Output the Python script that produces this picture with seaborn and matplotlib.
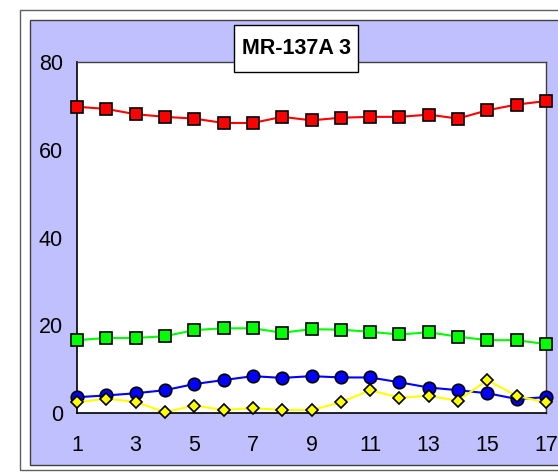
import matplotlib
matplotlib.use("Agg")
import matplotlib.pyplot as plt
from matplotlib.patches import Rectangle
import seaborn as sns
import pandas as pd

# =========================
# DADOS
# =========================
posicao = list(range(1, 18))
serie_vermelha = [69.8, 69.3, 68.1, 67.5, 67.1, 66.1, 66.1, 67.5, 66.7, 67.3, 67.5, 67.5, 68.0, 67.1, 69.0, 70.3, 71.1]
serie_verde = [16.6, 17.1, 17.1, 17.5, 18.9, 19.3, 19.3, 18.3, 19.1, 19.0, 18.5, 17.9, 18.4, 17.4, 16.6, 16.6, 15.7]
serie_azul = [3.6, 4.0, 4.5, 5.2, 6.6, 7.5, 8.4, 8.0, 8.4, 8.1, 8.1, 7.0, 5.8, 5.2, 4.5, 3.2, 3.6]
serie_amarela = [2.4, 3.3, 2.5, 0.2, 1.7, 0.7, 1.1, 0.7, 0.7, 2.4, 5.2, 3.5, 3.9, 2.8, 7.5, 3.9, 2.4]
titulo = "MR-137A 3"

# =========================
# FIGURA
# =========================
sns.set_style("white")
plt.rcParams["font.family"] = ["Liberation Sans", "DejaVu Sans"]

fig = plt.figure(figsize=(5.58, 4.73), dpi=100)
W, H = 558, 473

# moldura externa (area do grafico) e fundo azulado
fig.patches.append(Rectangle((20 / W, 3 / H), 1.0, 1 - 13 / H, transform=fig.transFigure,
                             facecolor="white", edgecolor="#606060", lw=1.0, zorder=-2))
fig.patches.append(Rectangle((30 / W, 8 / H), 1.0, 1 - 28 / H, transform=fig.transFigure,
                             facecolor="#c0c0ff", edgecolor="#404040", lw=1.0, zorder=-1))

ax = fig.add_axes([77 / W, 60 / H, (546 - 77) / W, (413 - 62) / H])
ax.set_zorder(1)
ax.set_facecolor("white")

series = [
    (serie_vermelha, "#ff0000", "s", 8),
    (serie_verde, "#00ff00", "s", 8),
    (serie_azul, "#0000ff", "o", 9),
    (serie_amarela, "#ffff00", "D", 6.5),
]
for valores, cor, marcador, tam in series:
    df = pd.DataFrame({"x": posicao, "y": valores})
    sns.lineplot(data=df, x="x", y="y", ax=ax, color=cor, lw=1.5,
                 marker=marcador, markersize=tam, markeredgecolor="black",
                 markeredgewidth=1.2, clip_on=False, zorder=3)

ax.set_xlim(1, 17)
ax.set_ylim(0, 80)
ax.set_xticks(posicao)
ax.set_xticklabels([str(p) if p % 2 == 1 else "" for p in posicao])
ax.set_yticks([0, 20, 40, 60, 80])
ax.set_xlabel("")
ax.set_ylabel("")
ax.tick_params(axis="x", direction="out", length=7, width=1, labelsize=15.5, pad=9, colors="black")
ax.tick_params(axis="y", direction="inout", length=12, width=1, labelsize=15.5, pad=4, colors="black")

for lado in ["left", "bottom"]:
    ax.spines[lado].set_color("black")
    ax.spines[lado].set_linewidth(1.2)
for lado in ["top", "right"]:
    ax.spines[lado].set_visible(True)
    ax.spines[lado].set_color("#404040")
    ax.spines[lado].set_linewidth(1.0)

# titulo em caixa
fig.patches.append(Rectangle((234 / W, 1 - 72 / H), 124 / W, 47 / H, transform=fig.transFigure,
                             facecolor="white", edgecolor="black", lw=1.0, zorder=4))
fig.text(296 / W, 1 - 48 / H, titulo, ha="center", va="center", fontsize=15.5,
         fontweight="bold", color="black", zorder=5)

fig.savefig("out.png", dpi=100)
